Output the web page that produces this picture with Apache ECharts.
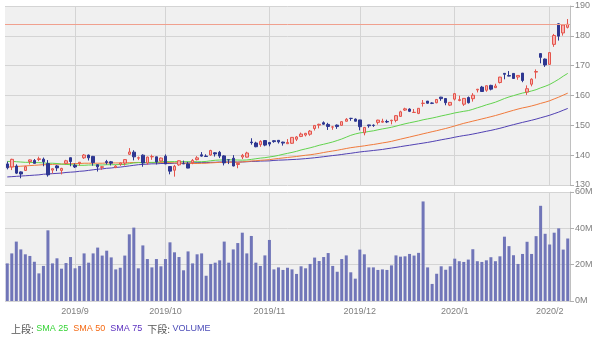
<!DOCTYPE html>
<html><head><meta charset="utf-8">
<script src="https://cdn.jsdelivr.net/npm/echarts@6/dist/echarts.min.js"></script>
<style>html,body{margin:0;padding:0;background:#fff}#c{width:600px;height:342px}</style>
</head><body><div id="c"></div>
<script>
const dates = ['2019/08/12','2019/08/13','2019/08/14','2019/08/15','2019/08/16','2019/08/19','2019/08/20','2019/08/21','2019/08/22','2019/08/23','2019/08/26','2019/08/27','2019/08/28','2019/08/29','2019/08/30',
'2019/09/03','2019/09/04','2019/09/05','2019/09/06','2019/09/09','2019/09/10','2019/09/11','2019/09/12','2019/09/13','2019/09/16','2019/09/17','2019/09/18','2019/09/19','2019/09/20','2019/09/23','2019/09/24','2019/09/25','2019/09/26','2019/09/27','2019/09/30',
'2019/10/01','2019/10/02','2019/10/03','2019/10/04','2019/10/07','2019/10/08','2019/10/09','2019/10/10','2019/10/11','2019/10/14','2019/10/15','2019/10/16','2019/10/17','2019/10/18','2019/10/21','2019/10/22','2019/10/23','2019/10/24','2019/10/25','2019/10/28','2019/10/29','2019/10/30','2019/10/31',
'2019/11/01','2019/11/04','2019/11/05','2019/11/06','2019/11/07','2019/11/08','2019/11/11','2019/11/12','2019/11/13','2019/11/14','2019/11/15','2019/11/18','2019/11/19','2019/11/20','2019/11/21','2019/11/22','2019/11/25','2019/11/26','2019/11/27','2019/11/29',
'2019/12/02','2019/12/03','2019/12/04','2019/12/05','2019/12/06','2019/12/09','2019/12/10','2019/12/11','2019/12/12','2019/12/13','2019/12/16','2019/12/17','2019/12/18','2019/12/19','2019/12/20','2019/12/23','2019/12/24','2019/12/26','2019/12/27','2019/12/30','2019/12/31',
'2020/01/02','2020/01/03','2020/01/06','2020/01/07','2020/01/08','2020/01/09','2020/01/10','2020/01/13','2020/01/14','2020/01/15','2020/01/16','2020/01/17','2020/01/21','2020/01/22','2020/01/23','2020/01/24','2020/01/27','2020/01/28','2020/01/29','2020/01/30','2020/01/31',
'2020/02/03','2020/02/04','2020/02/05','2020/02/06','2020/02/07'];

const opens = [137.07,136.05,136.36,134.39,134.88,137.85,138.21,138.55,138.66,137.19,134.99,136.39,134.88,137.25,139.15,
136.61,137.30,139.11,140.03,139.59,136.80,135.91,137.85,137.78,135.83,136.96,137.36,140.30,141.01,139.00,140.00,137.37,139.44,139.44,138.05,
139.66,136.18,134.95,136.75,137.14,137.08,137.46,138.49,140.12,139.69,140.06,140.79,140.95,139.76,138.45,138.97,136.88,139.39,139.34,144.40,144.08,143.52,144.90,
144.26,144.83,144.97,144.37,143.84,143.98,145.34,146.28,146.74,147.02,148.93,150.07,150.88,150.31,149.40,150.07,150.00,151.36,152.33,152.10,
151.81,147.49,150.14,150.05,150.99,151.07,151.29,151.54,151.65,153.00,155.11,155.45,154.30,154.00,157.35,158.12,157.48,157.56,159.45,158.99,156.77,
158.78,158.32,157.08,159.32,158.93,161.84,162.82,161.76,163.39,162.62,164.35,167.42,166.68,167.40,166.19,167.51,161.15,163.78,167.84,174.05,172.21,
170.43,177.14,184.03,180.97,182.85];

const highs = [137.86,138.80,136.92,134.58,136.46,138.55,138.71,139.49,139.20,138.35,135.56,136.72,135.76,138.44,139.18,
137.20,137.69,140.38,140.18,139.75,136.89,136.27,138.42,138.06,136.70,137.52,138.67,142.37,141.65,139.54,140.29,139.50,140.18,139.48,139.22,
140.25,136.37,136.75,138.25,138.18,137.76,138.70,139.67,141.03,140.29,141.79,140.99,141.42,140.00,138.50,140.01,137.45,140.42,141.14,145.67,144.50,145.00,144.93,
144.42,145.00,145.02,144.52,145.40,145.99,146.42,147.57,147.46,148.41,149.99,150.55,151.33,150.84,149.80,150.30,151.35,152.42,152.50,152.30,
151.83,149.43,150.18,150.32,151.87,152.21,151.89,151.87,153.44,154.89,155.90,155.71,155.48,155.77,158.49,158.12,157.71,158.73,159.55,159.02,157.77,
160.73,159.95,159.10,159.67,160.80,162.22,163.22,163.31,163.60,163.94,166.24,167.47,168.19,167.49,166.80,167.53,163.38,165.76,168.75,174.05,172.40,
174.50,180.64,184.20,183.82,185.63];

const lows = [135.24,135.00,133.67,132.25,134.72,136.89,137.24,138.00,136.29,132.80,133.90,134.66,133.55,136.91,136.27,
135.70,136.48,138.76,138.20,136.46,134.51,135.09,136.87,136.57,135.66,136.43,136.53,140.07,138.25,138.34,136.12,136.78,138.44,136.89,137.81,
137.00,133.58,132.80,136.42,137.02,135.62,136.97,138.25,139.50,139.52,139.81,139.53,139.02,136.56,137.01,136.26,135.61,138.67,139.20,143.51,142.65,142.79,142.99,
142.97,144.16,143.91,143.20,143.81,143.76,144.73,146.06,146.28,146.50,148.27,148.98,150.20,148.46,148.50,148.82,149.92,151.32,151.52,151.28,
148.32,146.65,149.20,149.48,150.27,150.91,150.76,150.33,151.02,152.83,154.82,154.45,154.18,153.75,156.29,157.27,157.12,157.40,158.22,156.73,156.45,
158.33,158.06,156.51,157.32,157.95,161.03,161.18,161.26,161.72,162.57,164.03,165.43,166.43,165.68,165.27,164.45,160.20,163.07,165.69,170.79,169.58,
170.40,176.31,178.41,180.06,182.48];

const closes = [135.79,138.60,133.98,133.68,136.13,138.41,137.26,138.79,137.78,133.39,135.45,135.74,135.56,138.12,137.86,
136.04,137.63,140.05,139.10,137.52,136.08,136.12,137.52,137.32,136.33,137.39,138.52,141.07,139.44,139.14,137.38,139.36,139.54,137.73,139.03,
137.07,134.65,136.28,138.12,137.12,135.67,138.24,139.10,139.68,139.55,141.57,140.41,139.69,137.41,138.43,136.37,137.24,139.94,140.73,144.19,142.83,144.61,143.37,
143.72,144.55,144.46,144.06,144.26,145.96,146.11,147.07,147.31,148.06,149.97,150.34,150.39,149.62,149.48,149.59,151.23,152.03,152.32,151.38,
149.55,149.31,149.85,149.93,151.75,151.36,151.13,151.70,153.24,154.53,155.53,154.69,154.37,155.71,157.41,157.41,157.38,158.67,158.96,157.59,157.70,
160.62,158.62,159.03,157.58,160.09,162.09,161.34,163.28,162.13,163.18,166.17,167.10,166.50,165.70,166.72,165.04,162.28,165.46,168.04,172.78,170.23,
174.38,180.12,179.90,183.63,183.89];

const volumesM = [20.7,26.2,32.7,28.4,25.7,24.8,21.6,15.2,19.3,38.9,20.7,23.5,17.8,20.9,24.2,
18.0,19.3,26.2,21.1,26.2,29.4,25.0,27.7,24.0,17.4,18.3,25.0,36.7,40.4,18.0,30.6,23.1,18.5,23.1,19.1,
23.1,32.3,26.8,24.2,16.9,27.3,20.7,25.7,26.2,13.9,20.4,21.1,22.4,32.7,21.1,28.4,31.9,37.6,26.2,35.8,21.1,19.3,25.1,
33.6,17.4,18.5,17.1,18.3,17.4,14.9,19.1,18.0,20.4,23.9,22.0,24.2,26.4,19.3,16.1,23.1,25.1,15.8,12.3,
28.3,25.7,18.5,18.5,17.1,17.4,17.1,19.6,25.1,24.4,24.6,25.9,25.0,26.5,54.8,18.5,9.4,15.0,19.1,17.2,19.1,
23.3,21.9,21.5,22.8,28.5,21.9,21.5,22.4,24.1,21.9,24.6,35.4,30.2,25.2,20.4,25.9,32.6,25.9,35.7,52.4,37.0,
31.1,37.6,40.0,28.3,34.4];

const sma25 = [137.9,137.9,137.8,137.7,137.6,137.6,137.5,137.5,137.4,137.3,137.3,137.2,137.0,136.9,136.8,136.7,136.6,136.6,136.7,136.7,136.7,136.7,136.8,136.8,
136.81,136.87,136.87,137.15,137.38,137.51,137.46,137.55,137.58,137.58,137.80,137.87,137.82,137.85,137.85,137.82,137.81,137.83,137.79,137.82,137.90,138.12,138.29,138.38,138.38,138.46,138.42,138.37,138.33,138.38,138.58,138.80,139.01,139.16,139.40,139.62,139.92,140.29,140.61,140.93,141.29,141.74,142.10,142.46,142.87,143.31,143.66,144.03,144.42,144.91,145.42,146.04,146.65,147.11,147.46,147.66,147.94,148.16,148.49,148.80,149.06,149.35,149.72,150.13,150.51,150.85,151.15,151.48,151.86,152.15,152.44,152.77,153.14,153.46,153.79,154.16,154.43,154.70,154.94,155.37,155.88,156.34,156.87,157.29,157.76,158.36,158.98,159.51,159.95,160.40,160.82,161.13,161.52,161.95,162.56,163.08,163.70,164.55,165.44,166.48,167.41];

const sma50 = [136.0,136.1,136.2,136.3,136.4,136.5,136.6,136.7,136.8,136.8,136.9,137.0,137.0,137.1,137.1,137.2,137.2,137.3,137.3,137.3,137.3,137.3,137.4,137.4,137.4,
137.39,137.39,137.48,137.54,137.56,137.53,137.53,137.54,137.49,137.55,137.59,137.51,137.43,137.38,137.31,137.26,137.22,137.20,137.26,137.30,137.41,137.50,137.59,137.59,
137.64,137.65,137.62,137.74,137.88,138.04,138.13,138.28,138.37,138.49,138.71,138.89,139.06,139.23,139.39,139.55,139.77,139.97,140.13,140.35,140.60,140.89,141.16,141.40,141.64,141.94,142.23,142.51,142.72,142.92,143.12,143.37,143.58,143.83,144.10,144.34,144.63,145.01,145.37,145.72,146.07,146.44,146.79,147.16,147.51,147.87,148.21,148.58,148.94,149.35,149.79,150.24,150.67,151.03,151.41,151.77,152.14,152.51,152.89,153.28,153.71,154.16,154.61,155.04,155.46,155.84,156.14,156.50,156.90,157.36,157.76,158.24,158.85,159.45,160.13,160.79];

const sma75 = [132.7,132.8,132.9,133.0,133.1,133.2,133.3,133.4,133.6,133.7,133.8,133.9,134.0,134.2,134.3,134.4,134.6,134.7,134.9,135.1,135.3,135.4,135.6,135.7,135.9,136.0,136.2,136.4,136.6,136.8,136.9,137.0,137.1,137.1,137.2,137.2,137.2,137.3,137.3,137.3,137.4,137.4,137.5,137.5,137.5,137.6,137.6,137.7,137.7,
137.72,137.73,137.68,137.73,137.79,137.90,137.92,138.02,138.05,138.09,138.24,138.33,138.37,138.45,138.53,138.60,138.72,138.84,138.98,139.13,139.30,139.49,139.67,139.87,140.03,
140.23,140.45,140.63,140.86,141.07,141.25,141.40,141.57,141.74,141.92,142.16,142.38,142.61,142.86,143.10,143.32,143.57,143.81,144.04,144.28,144.55,144.85,145.15,145.42,145.69,146.02,146.30,146.57,146.79,147.07,147.37,147.69,148.01,148.31,148.65,149.01,149.41,149.84,150.23,150.61,150.99,151.34,151.70,152.09,152.53,152.94,153.38,153.91,154.44,155.06,155.66];

const monthStarts = ['2019/09/03','2019/10/01','2019/11/01','2019/12/02','2020/01/02','2020/02/03'];
const monthLabels = ['2019/9','2019/10','2019/11','2019/12','2020/1','2020/2'];
const priceTicks = {min:130, max:190, step:10};
const volTicks = {min:0, max:60, step:20};

const monthIdx = monthStarts.map(d => dates.indexOf(d));
const isMonth = (i) => monthIdx.indexOf(i) >= 0;
const FONT = "'Liberation Sans', Arial, sans-serif";
const gridLine = {show:true, interval:(i)=>isMonth(i), alignWithLabel:true, lineStyle:{color:'#d4d4d4', width:1}};

const chart = echarts.init(document.getElementById('c'), null, {renderer:'canvas'});
chart.setOption({
  animation:false,
  backgroundColor:'#ffffff',
  grid:[
    {left:5, right:30, top:6, height:179, show:true, backgroundColor:'#f0f0f0', borderWidth:0, outerBoundsMode:'none', containLabel:false},
    {left:5, right:30, top:192, height:109, show:true, backgroundColor:'#f0f0f0', borderWidth:0, outerBoundsMode:'none', containLabel:false}
  ],
  xAxis:[
    {type:'category', gridIndex:0, data:dates, boundaryGap:true, axisLine:{show:false}, axisTick:{show:false}, axisLabel:{show:false}, splitLine:gridLine},
    {type:'category', gridIndex:1, data:dates, boundaryGap:true, axisLine:{show:false}, axisTick:{show:false},
     axisLabel:{show:true, interval:(i)=>isMonth(i), formatter:(v)=>{const k=monthStarts.indexOf(v); return k>=0?monthLabels[k]:'';}, color:'#808080', fontSize:9, fontFamily:FONT, margin:6},
     splitLine:gridLine}
  ],
  yAxis:[
    {type:'value', gridIndex:0, position:'right', min:priceTicks.min, max:priceTicks.max, interval:priceTicks.step,
     axisLine:{show:true, lineStyle:{color:'#c0c0c0'}}, axisTick:{show:true, length:4, lineStyle:{color:'#b0b0b0'}},
     axisLabel:{color:'#808080', fontSize:9, fontFamily:FONT, margin:5},
     splitLine:{show:true, lineStyle:{color:'#d4d4d4'}}},
    {type:'value', gridIndex:1, position:'right', min:volTicks.min, max:volTicks.max, interval:volTicks.step,
     axisLine:{show:true, lineStyle:{color:'#c0c0c0'}}, axisTick:{show:true, length:4, lineStyle:{color:'#b0b0b0'}},
     axisLabel:{color:'#808080', fontSize:9, fontFamily:FONT, margin:5, formatter:(v)=>v+'M'},
     splitLine:{show:true, lineStyle:{color:'#d4d4d4'}}}
  ],
  series:[
    {type:'line', name:'SMA 75', xAxisIndex:0, yAxisIndex:0, data:sma75, showSymbol:false, symbol:'none', lineStyle:{color:'#5141b3', width:1}, z:3},
    {type:'line', name:'SMA 50', xAxisIndex:0, yAxisIndex:0, data:sma50, showSymbol:false, symbol:'none', lineStyle:{color:'#f07a3c', width:1}, z:3},
    {type:'line', name:'SMA 25', xAxisIndex:0, yAxisIndex:0, data:sma25, showSymbol:false, symbol:'none', lineStyle:{color:'#62d34e', width:1}, z:3},
    {type:'candlestick', xAxisIndex:0, yAxisIndex:0, barWidth:3, z:4,
     data: dates.map((d,i)=>[opens[i], closes[i], lows[i], highs[i]]),
     itemStyle:{color:'#f7b4b0', color0:'#2e3791', borderColor:'#e4544c', borderColor0:'#2e3791', borderWidth:1},
     markLine:{silent:true, symbol:'none', animation:false, label:{show:false},
       lineStyle:{color:'#f0a08e', width:1, type:'solid'},
       data:[{yAxis: closes[closes.length-1]}]}},
    {type:'bar', xAxisIndex:1, yAxisIndex:1, data:volumesM, barWidth:3, itemStyle:{color:'#7075b8'}}
  ],
  graphic:[
    {type:'text', left:11, top:324, silent:true,
     style:{text:'{k|上段:} {g|SMA 25}  {o|SMA 50}  {p|SMA 75}  {k|下段:} {v|VOLUME}',
       font:'9px '+FONT,
       rich:{
         k:{fill:'#555555', fontSize:10, fontFamily:"'Noto Sans CJK JP', "+FONT},
         g:{fill:'#36d436', fontSize:9, fontFamily:FONT},
         o:{fill:'#f56a14', fontSize:9, fontFamily:FONT},
         p:{fill:'#5a2fbf', fontSize:9, fontFamily:FONT},
         v:{fill:'#4d4db8', fontSize:9, fontFamily:FONT}
       }}}
  ]
});
</script>
</body></html>
